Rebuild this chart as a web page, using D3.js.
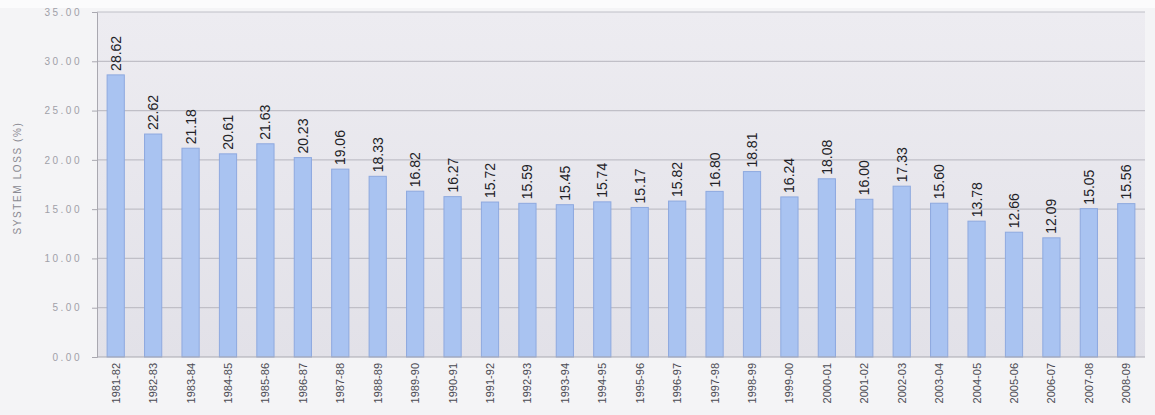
<!DOCTYPE html>
<html>
<head>
<meta charset="utf-8">
<script src="https://cdn.jsdelivr.net/npm/d3@7"></script>
<style>
  body { margin: 0; background: #f4f4f6; }
  svg { display: block; }
</style>
</head>
<body>
<svg id="chart" width="1155" height="415"></svg>
<script>
// data
var years = ["1981-82", "1982-83", "1983-84", "1984-85", "1985-86", "1986-87", "1987-88",
  "1988-89", "1989-90", "1990-91", "1991-92", "1992-93", "1993-94", "1994-95", "1995-96",
  "1996-97", "1997-98", "1998-99", "1999-00", "2000-01", "2001-02", "2002-03", "2003-04",
  "2004-05", "2005-06", "2006-07", "2007-08", "2008-09"]
var losses = [28.62, 22.62, 21.18, 20.61, 21.63, 20.23, 19.06, 18.33, 16.82, 16.27, 15.72,
  15.59, 15.45, 15.74, 15.17, 15.82, 16.80, 18.81, 16.24, 18.08, 16.00, 17.33, 15.60,
  13.78, 12.66, 12.09, 15.05, 15.56]
var yTicks = [0, 5, 10, 15, 20, 25, 30, 35]
var yLabel = "SYSTEM LOSS (%)"

var svg = d3.select("#chart")
var plotLeft = 97, plotRight = 1145, plotTop = 12, plotBottom = 357

var x = d3.scaleBand().domain(years).range([plotLeft, plotRight]).paddingInner(0.54).paddingOuter(0.27)
var y = d3.scaleLinear().domain([0, 35]).range([plotBottom, plotTop])

// plot background
var defs = svg.append("defs")
var grad = defs.append("linearGradient").attr("id", "bg").attr("x1", 0).attr("y1", 0).attr("x2", 0).attr("y2", 1)
grad.append("stop").attr("offset", "0%").attr("stop-color", "#edecf1")
grad.append("stop").attr("offset", "100%").attr("stop-color", "#e2e1e8")

svg.append("rect").attr("x", 0).attr("y", 0).attr("width", 1155).attr("height", 8).attr("fill", "#fbfbfc")
svg.append("rect")
  .attr("x", plotLeft).attr("y", plotTop)
  .attr("width", plotRight - plotLeft).attr("height", plotBottom - plotTop)
  .attr("fill", "url(#bg)")

// gridlines
svg.append("g")
  .selectAll("line")
  .data(yTicks.slice(1))
  .enter().append("line")
  .attr("x1", plotLeft).attr("x2", plotRight)
  .attr("y1", d => y(d)).attr("y2", d => y(d))
  .attr("stroke", "#c0bfc7").attr("stroke-width", 1.2)

// y axis
var yAxis = svg.append("g")
  .attr("transform", "translate(" + plotLeft + ",0)")
  .call(d3.axisLeft(y).tickValues(yTicks).tickFormat(d3.format(".2f")).tickSize(5).tickPadding(10))
yAxis.select(".domain").attr("stroke", "#a9a8b0")
yAxis.selectAll(".tick line").attr("stroke", "#a9a8b0")
yAxis.selectAll("text")
  .attr("fill", "#a0a0a8").style("font-family", "Liberation Sans, Arial, sans-serif")
  .style("font-size", "10px").style("letter-spacing", "2.5px")

svg.append("text")
  .attr("transform", "translate(21,178) rotate(-90)")
  .attr("text-anchor", "middle")
  .attr("fill", "#8a8a92")
  .style("font-family", "Liberation Sans, Arial, sans-serif")
  .style("font-size", "10px")
  .style("letter-spacing", "1.6px")
  .text(yLabel)

// bars
svg.append("g")
  .selectAll("rect")
  .data(losses)
  .enter().append("rect")
  .attr("x", (d, i) => x(years[i]))
  .attr("y", d => y(d))
  .attr("width", x.bandwidth())
  .attr("height", d => plotBottom - y(d))
  .attr("fill", "#a9c3f1")
  .attr("stroke", "#8ea9df")
  .attr("stroke-width", 1)

// value labels
svg.append("g")
  .selectAll("text")
  .data(losses)
  .enter().append("text")
  .attr("transform", (d, i) => "translate(" + (x(years[i]) + x.bandwidth() / 2 + 5) + "," + (y(d) - 4) + ") rotate(-90)")
  .attr("fill", "#222226")
  .style("font-family", "Liberation Sans Narrow, Arial Narrow, Liberation Sans, sans-serif")
  .style("font-size", "14px")
  .text(d => d.toFixed(2))

// x axis
svg.append("line")
  .attr("x1", plotLeft).attr("x2", plotRight)
  .attr("y1", plotBottom).attr("y2", plotBottom)
  .attr("stroke", "#a9a8b0")

svg.append("g")
  .selectAll("text")
  .data(years)
  .enter().append("text")
  .attr("transform", d => "translate(" + (x(d) + x.bandwidth() / 2 + 4) + "," + (plotBottom + 6) + ") rotate(-90)")
  .attr("text-anchor", "end")
  .attr("fill", "#4a4a52")
  .style("font-family", "Liberation Sans, Arial, sans-serif")
  .style("font-size", "11px")
  .text(d => d)
</script>
</body>
</html>
